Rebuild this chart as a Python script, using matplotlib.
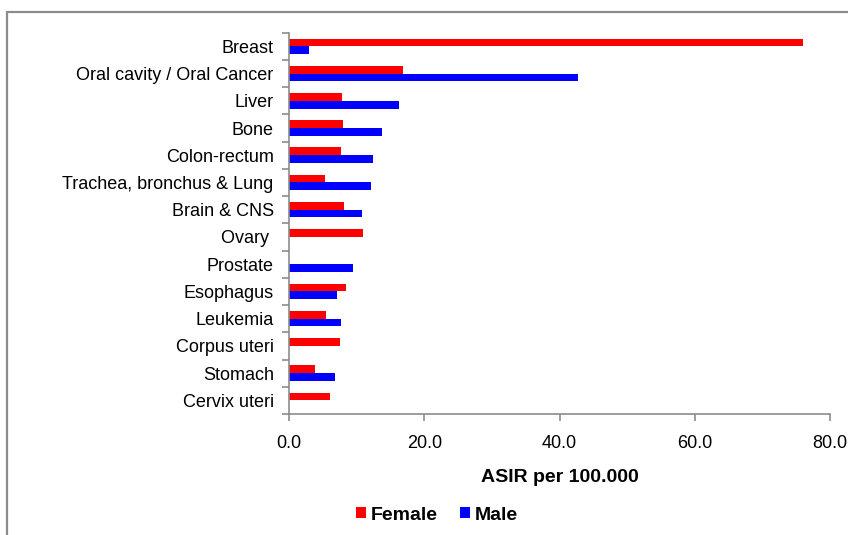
import matplotlib.pyplot as plt
import numpy as np
from matplotlib.patches import Rectangle

plt.rcParams['font.family'] = ['Liberation Sans', 'DejaVu Sans']

sites = ['Breast', 'Oral cavity / Oral Cancer', 'Liver', 'Bone', 'Colon-rectum',
         'Trachea, bronchus & Lung', 'Brain & CNS', 'Ovary ', 'Prostate', 'Esophagus',
         'Leukemia', 'Corpus uteri', 'Stomach', 'Cervix uteri']
female = [76.0, 16.8, 7.8, 8.0, 7.7, 5.3, 8.1, 10.9, 0, 8.4, 5.5, 7.6, 3.8, 6.0]
male = [3.0, 42.7, 16.2, 13.8, 12.4, 12.1, 10.8, 0, 9.4, 7.1, 7.7, 0, 6.8, 0]
xticks = [0, 20, 40, 60, 80]

fig = plt.figure(figsize=(8.48, 5.35), dpi=100)
ax = fig.add_axes([289/848, 1 - 414/535, (830-289)/848, (414-32.7)/535])

# outer chart frame
fig.patches.append(Rectangle((7.3/848, -0.1), 1.2, 1 - 12/535 + 0.1,
                             transform=fig.transFigure, fill=False,
                             edgecolor='#8c8c8c', linewidth=1.6))

y = np.arange(len(sites))
h = 0.285
ax.barh(y - h/2, female, height=h, color='#ff0000', label='Female')
ax.barh(y + h/2, male, height=h, color='#0000ff', label='Male')

ax.set_ylim(len(sites) - 0.5, -0.5)
ax.set_xlim(0, 80)
ax.set_yticks(y)
ax.set_yticklabels(sites, fontsize=13)
ax.set_yticks(np.arange(len(sites) + 1) - 0.5, minor=True)
ax.tick_params(axis='y', which='major', length=0, pad=11)
ax.tick_params(axis='y', which='minor', length=5, color='#8c8c8c', width=1.2)
ax.set_xticks(xticks)
ax.set_xticklabels([f'{v:.1f}' for v in xticks], fontsize=13)
ax.tick_params(axis='x', length=5, color='#8c8c8c', width=1.2, pad=10)
ax.set_xlabel('ASIR per 100.000', fontsize=14, fontweight='bold', labelpad=12)

for s in ['top', 'right']:
    ax.spines[s].set_visible(False)
for s in ['left', 'bottom']:
    ax.spines[s].set_color('#8c8c8c')
    ax.spines[s].set_linewidth(1.2)

fig.legend(loc='center', bbox_to_anchor=(437/848, 1 - 515/535), ncol=2, frameon=False,
           prop={'size': 14, 'weight': 'bold'}, handlelength=0.55, handleheight=0.55,
           handletextpad=0.25, columnspacing=1.1)

fig.savefig('out.png', dpi=100)
